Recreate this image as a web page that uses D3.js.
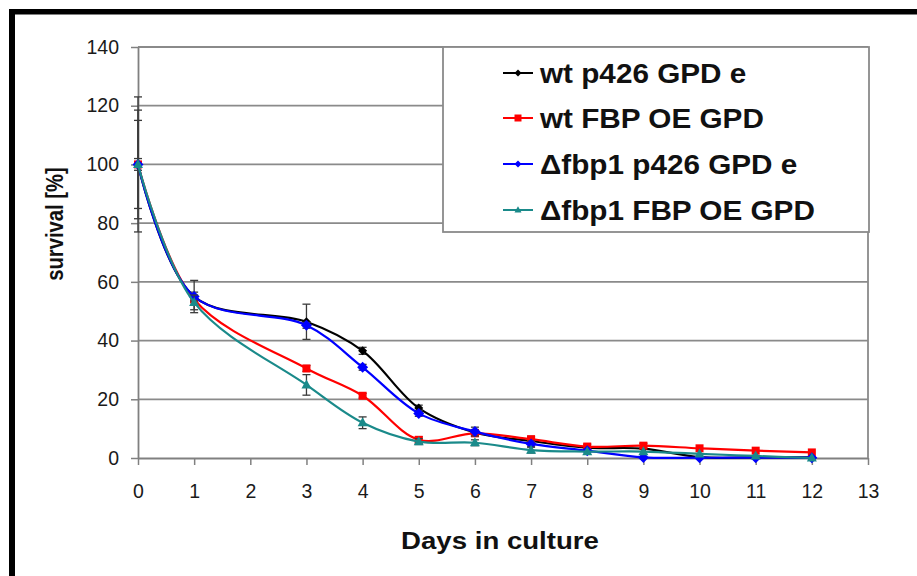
<!DOCTYPE html>
<html>
<head>
<meta charset="utf-8">
<script src="https://cdn.jsdelivr.net/npm/d3@7"></script>
<style>
  html, body { margin: 0; padding: 0; background: #fff; }
  svg { display: block; }
  text { font-family: "Liberation Sans", Arial, sans-serif; }
</style>
</head>
<body>
<svg id="chart" width="917" height="576"></svg>
<script>
// ---- data ----
const days = [0, 1, 3, 4, 5, 6, 7, 8, 9, 10, 11, 12];
const seriesNames = ["wt p426 GPD e", "wt FBP OE GPD", "\u0394fbp1 p426 GPD e", "\u0394fbp1 FBP OE GPD"];
const wtP426 = [100, 55, 46.4, 36.5, 17, 8.7, 5.8, 3.5, 3.2, 0.3, 0.2, 0.2];
const wtFBP  = [100, 54, 30.5, 21.2, 6.2, 8.4, 6.4, 3.9, 4.2, 3.3, 2.5, 1.9];
const dP426  = [100, 55, 45.2, 30.9, 15.2, 9.0, 4.8, 2.5, 0.2, 0.1, 0.1, 0.1];
const dFBP   = [100, 53, 24.9, 12.0, 5.6, 5.2, 2.7, 2.2, 2.2, 1.4, 0.7, 0.0];
const wtP426Err = [23, 5.5, 6, 1.2, 1, 1, 1, 0.5, 0.5, 0.3, 0.3, 0.3];
const wtFBPErr  = [2, 1, 1, 0.8, 1, 1, 1, 0.8, 0.8, 0.5, 0.5, 0.5];
const dP426Err  = [15, 1.5, 1, 1, 1, 1.5, 1, 0.5, 0.5, 0.3, 0.3, 0.3];
const dFBPErr   = [18.5, 2.5, 3.5, 2, 1, 1, 1, 0.5, 0.5, 0.3, 0.3, 0.3];
const xTicks = d3.range(0, 14);
const yTicks = [0, 20, 40, 60, 80, 100, 120, 140];
const xTitle = "Days in culture";
const yTitle = "survival [%]";

// ---- styles ----
const colors = ["#000000", "#ff0000", "#0000ff", "#1a8a8a"];
const markers = ["diamondS", "square", "diamond", "triangle"];
const values = [wtP426, wtFBP, dP426, dFBP];
const errs = [wtP426Err, wtFBPErr, dP426Err, dFBPErr];

const svg = d3.select("#chart");
const pLeft = 138, pRight = 868, pTop = 47, pBottom = 458;

const x = d3.scaleLinear().domain([0, 13]).range([pLeft, pRight]);
const y = d3.scaleLinear().domain([0, 140]).range([pBottom, pTop]);

// frame (black top and left bars)
svg.append("rect").attr("x", 9).attr("y", 9).attr("width", 908).attr("height", 5.5).attr("fill", "#000");
svg.append("rect").attr("x", 9).attr("y", 9).attr("width", 6).attr("height", 567).attr("fill", "#000");

// gridlines
svg.append("g").selectAll("line").data(yTicks.filter(d => d > 0)).join("line")
  .attr("x1", pLeft).attr("x2", pRight)
  .attr("y1", d => y(d)).attr("y2", d => y(d))
  .attr("stroke", "#8a8a8a").attr("stroke-width", 1.8);

// axes
const yAxis = svg.append("g").attr("transform", `translate(${pLeft},0)`)
  .call(d3.axisLeft(y).tickValues(yTicks).tickSize(7).tickSizeOuter(0).tickPadding(12));
const xAxis = svg.append("g").attr("transform", `translate(0,${pBottom})`)
  .call(d3.axisBottom(x).tickValues(xTicks).tickSize(7).tickSizeOuter(0).tickPadding(19));
[yAxis, xAxis].forEach(a => {
  a.select(".domain").attr("stroke", "#808080").attr("stroke-width", 1.8);
  a.selectAll(".tick line").attr("stroke", "#808080").attr("stroke-width", 1.5);
  a.selectAll(".tick text").attr("fill", "#1a1a1a").style("font-size", "19.5px")
    .style("font-family", "'Liberation Sans', Arial, sans-serif");
});
// right border
svg.append("line").attr("x1", pRight).attr("x2", pRight).attr("y1", pTop).attr("y2", pBottom)
  .attr("stroke", "#8a8a8a").attr("stroke-width", 1.8);

// lines
const line = d3.line().x((d, i) => x(days[i])).y(d => y(d)).curve(d3.curveCatmullRom.alpha(0.5));

function markerPath(type, s) {
  if (type === "square") return `M${-s/2},${-s/2}h${s}v${s}h${-s}Z`;
  if (type === "diamond" || type === "diamondS") return `M0,${-s/2}L${s/2},0L0,${s/2}L${-s/2},0Z`;
  if (type === "triangle") { const h = s * 0.9; return `M0,${-h*0.6}L${s/2},${h*0.4}L${-s/2},${h*0.4}Z`; }
}
const markerSize = [9, 8, 11, 10];

values.forEach((vals, si) => {
  const g = svg.append("g");
  // error bars
  const eb = g.append("g");
  vals.forEach((v, i) => {
    const e = errs[si][i];
    if (e < 0.8) return;
    const cx = x(days[i]);
    eb.append("line").attr("x1", cx).attr("x2", cx).attr("y1", y(v + e)).attr("y2", y(v - e))
      .attr("stroke", "#3a3a3a").attr("stroke-width", 1.3);
    [v + e, v - e].forEach(yy => eb.append("line").attr("x1", cx - 4).attr("x2", cx + 4)
      .attr("y1", y(yy)).attr("y2", y(yy)).attr("stroke", "#3a3a3a").attr("stroke-width", 1.3));
  });
  g.append("path").attr("d", line(vals)).attr("fill", "none")
    .attr("stroke", colors[si]).attr("stroke-width", 2.2);
  g.selectAll("path.m").data(vals).join("path").attr("class", "m")
    .attr("transform", (d, i) => `translate(${x(days[i])},${y(d)})`)
    .attr("d", markerPath(markers[si], markerSize[si]))
    .attr("fill", colors[si]);
});

// legend
const lg = svg.append("g");
lg.append("rect").attr("x", 443).attr("y", 47).attr("width", 426).attr("height", 185)
  .attr("fill", "#fff").attr("stroke", "#8a8a8a").attr("stroke-width", 1.8);
const rowY = [73, 118, 164, 210];
seriesNames.forEach((name, i) => {
  lg.append("line").attr("x1", 503).attr("x2", 533).attr("y1", rowY[i]).attr("y2", rowY[i])
    .attr("stroke", colors[i]).attr("stroke-width", 2);
  lg.append("path").attr("transform", `translate(518,${rowY[i]})`)
    .attr("d", markerPath(markers[i], 7)).attr("fill", colors[i]);
  lg.append("text").attr("transform", `translate(540,${rowY[i] + 10}) scale(1.1,1)`)
    .text(name).style("font-size", "27px").style("font-weight", "bold").attr("fill", "#111");
});

// axis titles
svg.append("text").attr("transform", `translate(500,549) scale(1.15,1)`)
  .attr("text-anchor", "middle").text(xTitle)
  .style("font-size", "24px").style("font-weight", "bold").attr("fill", "#111");
svg.append("text").attr("transform", `translate(63,224) rotate(-90) scale(0.92,1.1)`)
  .attr("text-anchor", "middle").text(yTitle)
  .style("font-size", "22px").style("font-weight", "bold").attr("fill", "#111");
</script>
</body>
</html>
